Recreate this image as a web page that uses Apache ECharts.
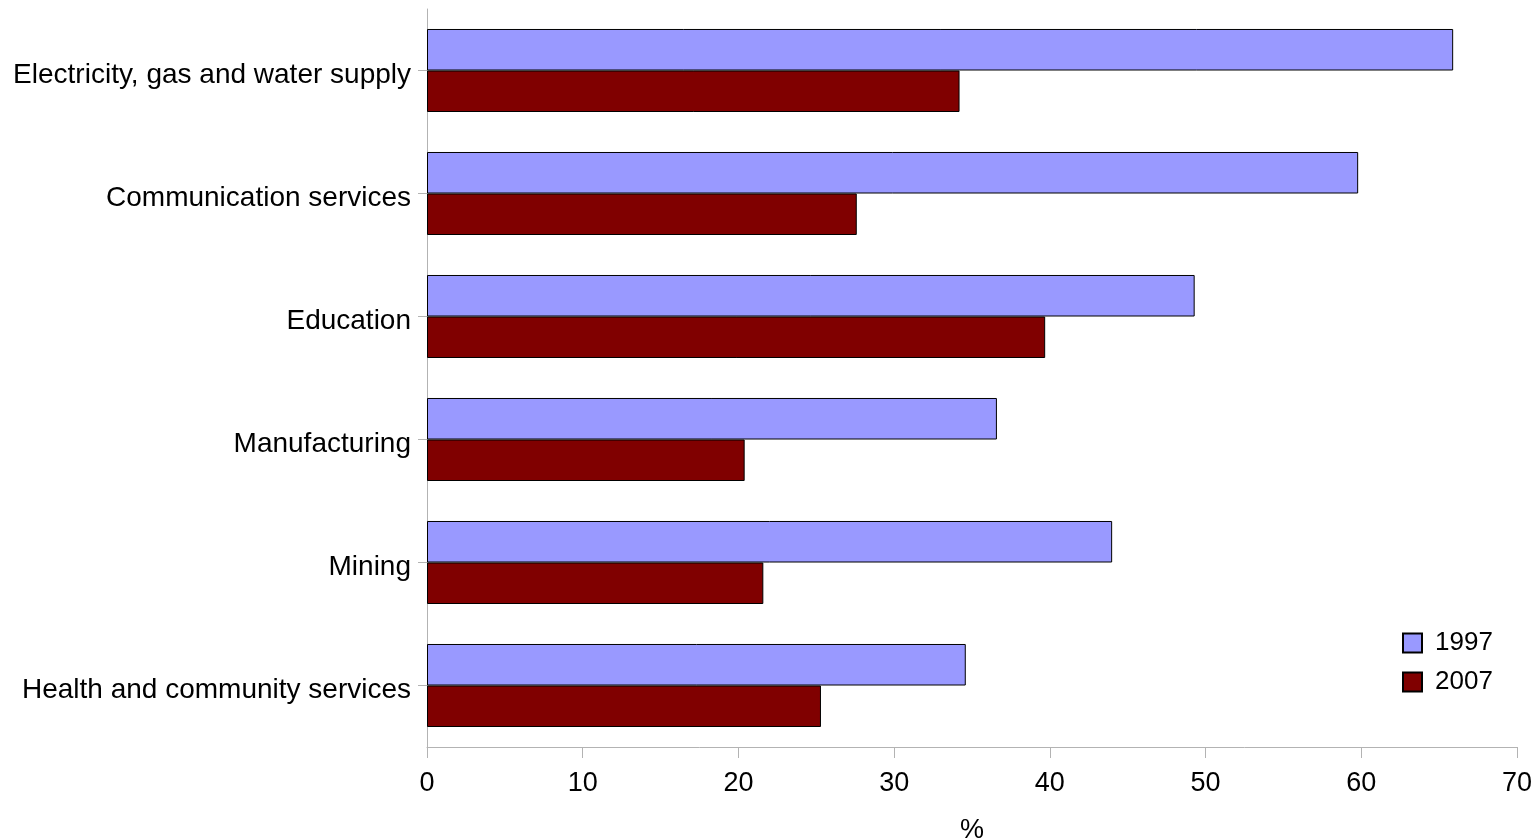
<!DOCTYPE html>
<html>
<head>
<meta charset="utf-8">
<script src="https://cdn.jsdelivr.net/npm/echarts@6/dist/echarts.min.js"></script>
<style>
  html, body { margin: 0; padding: 0; background: #fff; }
  #main { width: 1537px; height: 839px; }
</style>
</head>
<body>
<div id="main"></div>
<script>
// categories from top to bottom
var categories = ['Electricity, gas and water supply', 'Communication services', 'Education', 'Manufacturing', 'Mining', 'Health and community services'];
var values1997 = [65.9, 59.8, 49.3, 36.6, 44.0, 34.6];
var values2007 = [34.2, 27.6, 39.7, 20.4, 21.6, 25.3];
var xTicks = [0, 10, 20, 30, 40, 50, 60, 70];

var myChart = echarts.init(document.getElementById('main'));
var font = 'Liberation Sans, Arial, sans-serif';
var option = {
    animation: false,
    legend: {
        orient: 'vertical',
        left: 1397,
        top: 625,
        icon: 'rect',
        itemWidth: 19,
        itemHeight: 19,
        itemGap: 13,
        textStyle: { fontFamily: font, fontSize: 26, color: '#000', padding: [0, 0, 0, 8] },
        data: ['1997', '2007']
    },
    grid: { left: 427, right: 20, top: 9, bottom: 92, outerBoundsMode: 'none' },
    xAxis: {
        type: 'value',
        min: xTicks[0],
        max: xTicks[xTicks.length - 1],
        interval: 10,
        name: '%',
        nameLocation: 'middle',
        nameGap: 70,
        nameTextStyle: { fontFamily: font, fontSize: 27, color: '#000' },
        axisLine: { show: true, lineStyle: { color: '#b3b3b3', width: 1 } },
        axisTick: { show: true, length: 11, lineStyle: { color: '#b3b3b3' } },
        axisLabel: { fontFamily: font, fontSize: 27, color: '#000', margin: 23 },
        splitLine: { show: false }
    },
    yAxis: {
        type: 'category',
        inverse: true,
        data: categories,
        axisLine: { show: true, lineStyle: { color: '#b3b3b3', width: 1 } },
        axisTick: { show: true, alignWithLabel: true, length: 9, lineStyle: { color: '#b3b3b3' } },
        axisLabel: {
            margin: 16,
            formatter: function (v) { return '{a|' + v + '}'; },
            rich: {
                a: { fontFamily: font, fontSize: 28, color: '#000', padding: [10, 0, 0, 0] }
            }
        }
    },
    series: [
        {
            name: '1997',
            type: 'bar',
            data: values1997,
            barGap: '0%',
            barCategoryGap: '32.5%',
            itemStyle: { color: '#9999ff', borderColor: '#000', borderWidth: 1 }
        },
        {
            name: '2007',
            type: 'bar',
            data: values2007,
            barGap: '0%',
            barCategoryGap: '32.5%',
            itemStyle: { color: '#800000', borderColor: '#000', borderWidth: 1 }
        }
    ]
};
myChart.setOption(option);
window.onresize = function () {
    myChart.resize();
};
</script>
</body>
</html>
